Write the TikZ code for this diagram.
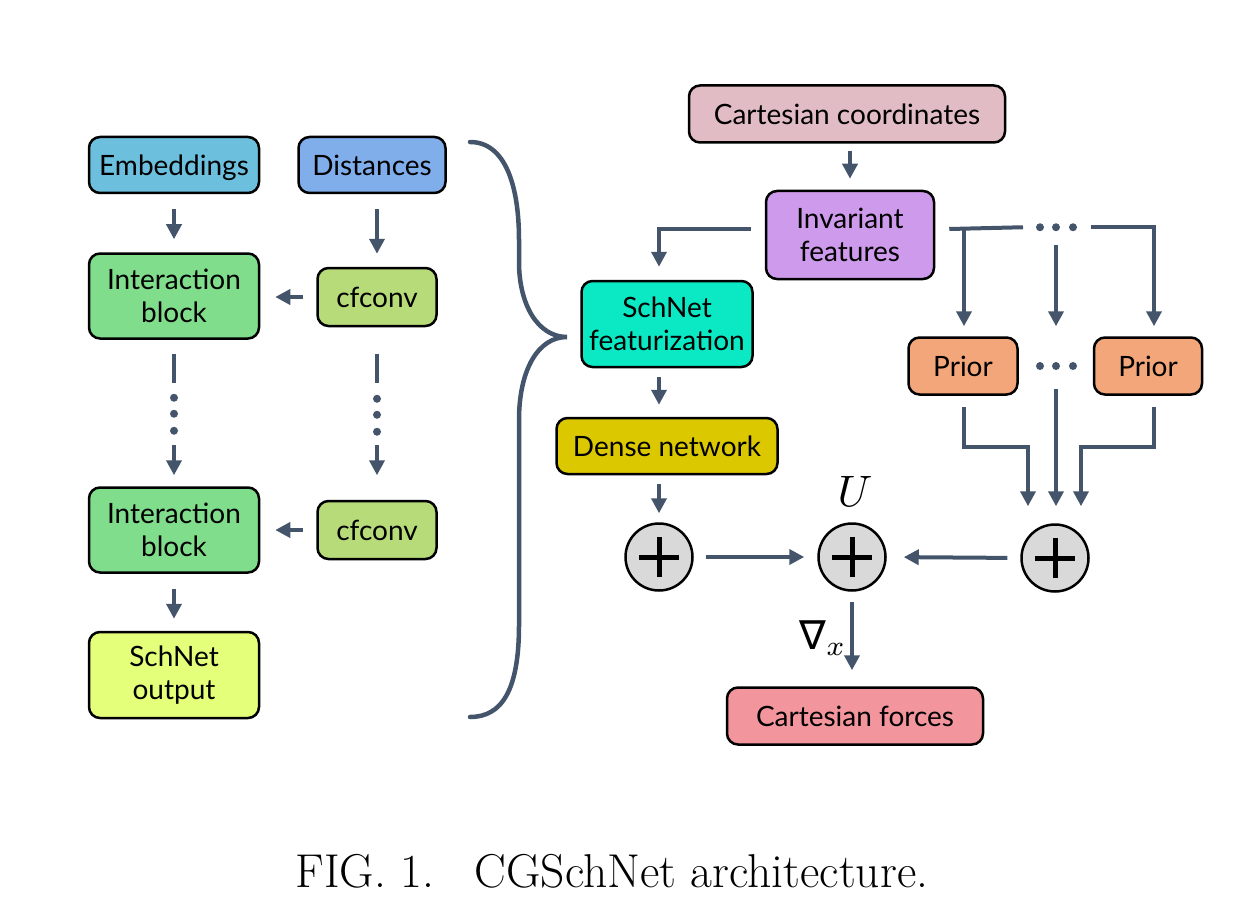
\documentclass[tikz,border=0pt]{standalone}
\usepackage{fontspec}
\newfontfamily\lato{Lato}
\newfontfamily\dejavu{DejaVu Sans}
\usetikzlibrary{arrows.meta,calc}
\definecolor{slate}{HTML}{44546A}
\definecolor{cEmb}{HTML}{6CC0DE}
\definecolor{cDist}{HTML}{80AEEB}
\definecolor{cInt}{HTML}{80DD8C}
\definecolor{cCf}{HTML}{B8DB7A}
\definecolor{cOut}{HTML}{E4FF7A}
\definecolor{cCC}{HTML}{E2BCC4}
\definecolor{cInv}{HTML}{CE9AEC}
\definecolor{cSF}{HTML}{0AE9C4}
\definecolor{cDN}{HTML}{DCC800}
\definecolor{cPr}{HTML}{F2A67A}
\definecolor{cFo}{HTML}{F3959D}
\definecolor{plusgray}{HTML}{D9D9D9}
\begin{document}
\begin{tikzpicture}[x=1pt,y=-1pt,
  box/.style={draw=black, line width=2.5pt, rounded corners=11pt, align=center, inner sep=0pt,
    font=\lato\fontsize{28}{32.5}\selectfont},
  arr/.style={draw=slate, line width=4pt, -{Triangle[length=15pt,width=15pt]}},
  ln/.style={draw=slate, line width=4pt},
  dotc/.style={fill=slate, circle, inner sep=0pt, minimum size=8pt},
  plusnode/.style={circle, draw=black, line width=2.5pt, fill=plusgray, minimum size=67pt, inner sep=0pt,
    path picture={
      \draw[line width=5pt,black] ([xshift=-20pt]path picture bounding box.center) -- ([xshift=20pt]path picture bounding box.center);
      \draw[line width=5pt,black] ([yshift=-20pt]path picture bounding box.center) -- ([yshift=20pt]path picture bounding box.center);}}
]
\useasboundingbox (0,0) rectangle (1242,912);

% ---------- left column ----------
\node[box, fill=cEmb, minimum width=170pt, minimum height=56pt, text depth=0pt] (emb) at (174,165) {Embeddings};
\node[box, fill=cDist, minimum width=147pt, minimum height=56pt] (dist) at (372,165) {Distances};
\node[box, fill=cInt, minimum width=170pt, minimum height=85pt] (ib1) at (174,296) {Interaction\\block};
\node[box, fill=cCf, minimum width=119pt, minimum height=58pt] (cf1) at (377,297) {cfconv};
\node[box, fill=cInt, minimum width=170pt, minimum height=85pt] (ib2) at (174,530) {Interaction\\block};
\node[box, fill=cCf, minimum width=119pt, minimum height=58pt] (cf2) at (377,530) {cfconv};
\node[box, fill=cOut, minimum width=170pt, minimum height=86pt] (out) at (174,675) {SchNet\\output};

\draw[arr, shorten <=15pt, shorten >=13pt] (emb.south) -- (ib1.north);
\draw[arr, shorten <=15pt, shorten >=13pt] (dist.south -| cf1.north) -- (cf1.north);
\draw[arr, shorten <=13pt, shorten >=15pt] (cf1.west) -- (ib1.east |- cf1.west);
\draw[arr, shorten <=13pt, shorten >=15pt] (cf2.west) -- (ib2.east |- cf2.west);
\draw[arr, shorten <=15pt, shorten >=12pt] (ib2.south) -- (out.north);

% dotted continuation, left
\draw[ln] ($(ib1.south)+(0,14)$) -- ($(ib1.south)+(0,43)$);
\node[dotc] (dl1) at ($(ib1.south)+(0,58)$) {};
\node[dotc] (dl2) at ($(ib1.south)+(0,74)$) {};
\node[dotc] (dl3) at ($(ib1.south)+(0,91)$) {};
\draw[arr] ($(ib2.north)+(0,-41)$) -- ($(ib2.north)+(0,-11)$);
% dotted continuation, right
\draw[ln] ($(cf1.south |- ib1.south)+(0,14)$) -- ($(cf1.south |- ib1.south)+(0,43)$);
\node[dotc] (dr1) at ($(cf1.south |- ib1.south)+(0,59)$) {};
\node[dotc] (dr2) at ($(cf1.south |- ib1.south)+(0,75)$) {};
\node[dotc] (dr3) at ($(cf1.south |- ib1.south)+(0,92)$) {};
\draw[arr] ($(cf2.north |- ib2.north)+(0,-41)$) -- ($(cf2.north |- ib2.north)+(0,-11)$);

% ---------- brace ----------
\draw[slate, line width=4.5pt, line cap=round]
  (470,142) .. controls (505,142) and (519,185) .. (519,240) -- (519,262)
  .. controls (519,305) and (538,337) .. (567,337)
  .. controls (538,337) and (519,370) .. (519,420) -- (519,625)
  .. controls (519,690) and (502,717) .. (470,717);

% ---------- right part ----------
\node[box, fill=cCC, minimum width=316pt, minimum height=57pt] (cc) at (847,114) {Cartesian coordinates};
\node[box, fill=cInv, minimum width=168pt, minimum height=88pt] (inv) at (850,235) {Invariant\\features};
\node[box, fill=cSF, minimum width=171pt, minimum height=86pt] (sf) at (667,324) {SchNet\\featurization};
\node[box, fill=cDN, minimum width=221pt, minimum height=56pt] (dn) at (667,446) {Dense network};
\node[plusnode] (p1) at (659,557) {};
\node[plusnode] (p2) at (852,557) {};
\node[plusnode] (p3) at (1055,558) {};
\node[box, fill=cFo, minimum width=256pt, minimum height=57pt] (fo) at (855,716) {Cartesian forces};
\node[box, fill=cPr, minimum width=109pt, minimum height=57pt] (pr1) at (963,366) {Prior};
\node[box, fill=cPr, minimum width=108pt, minimum height=57pt] (pr2) at (1148,366) {Prior};

\node[scale=4.4] (U) at (855,491) {$U$};
\node[scale=4.0, inner sep=0pt] (nab) at (823,638) {{\dejavu\fontsize{10}{11}\selectfont ∇}$_{x}$};

\draw[arr, shorten <=7pt, shorten >=11pt] (cc.south -| inv.north) -- (inv.north);
\draw[arr] ($(inv.west)+(-14,-6)$) -| ($(p1 |- sf.north)+(0,-13)$);
\draw[arr, shorten <=9pt, shorten >=12pt] (p1 |- sf.south) -- (p1 |- dn.north);
\draw[arr, shorten <=9pt, shorten >=9pt] (p1 |- dn.south) -- (p1.north);
\draw[arr, shorten <=12pt, shorten >=13pt] (p1.east) -- (p2.west);
\draw[arr, shorten <=13pt, shorten >=17pt] (p3.west) -- (p2.east);
\draw[arr, shorten <=10pt, shorten >=16pt] (p2.south) -- (p2.south |- fo.north);

% invariant features -> priors
\coordinate (br1) at ($(inv.east)+(14,-6)$);
\coordinate (brL) at ($(pr1.north)+(1,-109)$);
\coordinate (brM) at ($(p3 |- pr1.north)+(1,-109)$);
\coordinate (brR) at ($(pr2.north)+(6,-109)$);
\draw[ln] (br1) -- ($(brM)+(-33,0)$);
\node[dotc] (dt1) at ($(brM)+(-16,0)$) {};
\node[dotc] (dt2) at (brM) {};
\node[dotc] (dt3) at ($(brM)+(17,0)$) {};
\draw[arr] ($(brM)+(35,0)$) -- (brR) -- ($(brR |- pr2.north)+(0,-10)$);
\draw[arr] (brL) -- ($(brL |- pr1.north)+(0,-10)$);
\draw[arr] ($(brM)+(0,18)$) -- ($(brM |- pr1.north)+(0,-10)$);
\node[dotc] (dp1) at ($(brM |- pr1.east)+(-16,0)$) {};
\node[dotc] (dp2) at (brM |- pr1.east) {};
\node[dotc] (dp3) at ($(brM |- pr1.east)+(17,0)$) {};

% priors -> sum
\coordinate (jy) at ($(pr1.south)+(0,51)$);
\draw[arr] ($(brL |- pr1.south)+(0,11)$) -- (brL |- jy) -- ($(p3.north |- jy)+(-27,0)$) -- ($(p3.north)+(-27,-17)$);
\draw[arr] ($(brM |- pr1.south)+(0,-7)$) -- ($(brM |- p3.north)+(0,-17)$);
\draw[arr] ($(brR |- pr2.south)+(0,11)$) -- (brR |- jy) -- ($(p3.north |- jy)+(26,0)$) -- ($(p3.north)+(26,-17)$);

% ---------- caption ----------
\node[font=\fontsize{47.5}{54}\selectfont, anchor=base] (cap) at (612,887) {FIG.~1.\hspace{0.85em}CGSchNet architecture.};
\end{tikzpicture}
\end{document}
